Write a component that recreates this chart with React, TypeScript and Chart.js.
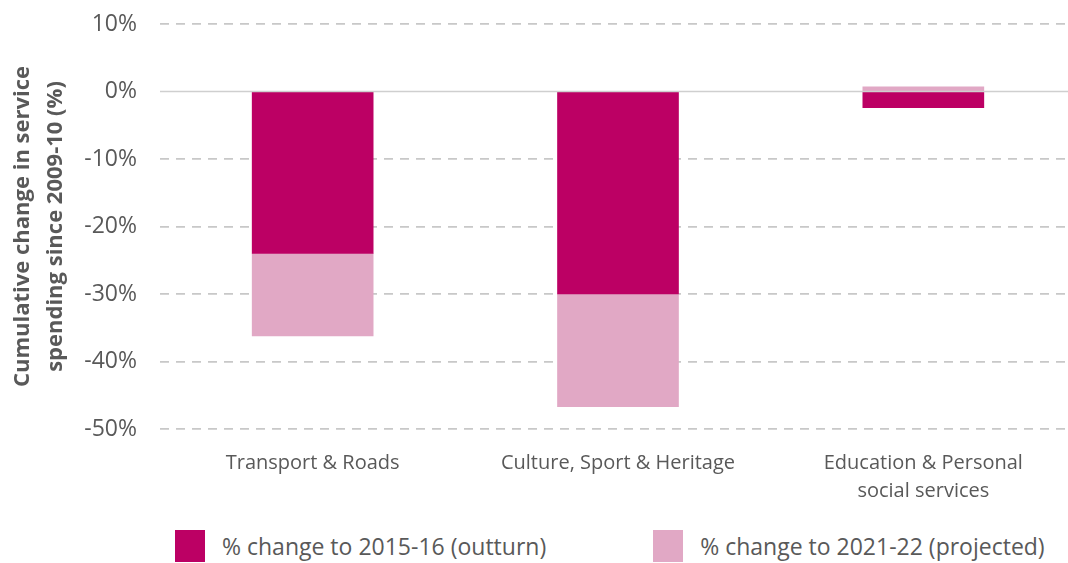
import React, { useEffect, useRef } from "react";
import { Chart, registerables } from "chart.js";

Chart.register(...registerables);

const categories: (string | string[])[] = [
  "Transport & Roads",
  "Culture, Sport & Heritage",
  ["Education & Personal", "social services"],
];
const outturn = [-24.0, -30.0, -2.4];
const projectedExtra = [-12.2, -16.7, 0.7];
const yTicks = [10, 0, -10, -20, -30, -40, -50];
const seriesNames = ["% change to 2015-16 (outturn)", "% change to 2021-22 (projected)"];
const seriesColors = ["#BC0064", "#E1A8C5"];
const yTitle = ["Cumulative change in service", "spending since 2009-10 (%)"];

const FONT = "'Open Sans', 'Noto Sans', sans-serif";
const GREY = "#595959";
const CW = 1078;
const CH = 525;

export default function App() {
  const ref = useRef<HTMLCanvasElement>(null);
  useEffect(() => {
    const zeroLine = {
      id: "zeroLine",
      afterDatasetsDraw(chart: any) {
        const y = chart.scales.y.getPixelForValue(0);
        const { left, right } = chart.chartArea;
        const ctx = chart.ctx;
        ctx.save();
        ctx.strokeStyle = "#cfcfcf";
        ctx.lineWidth = 1.5;
        ctx.beginPath();
        ctx.moveTo(left, y);
        ctx.lineTo(right, y);
        ctx.stroke();
        ctx.restore();
      },
    };
    const chart = new Chart(ref.current!, {
      type: "bar",
      data: {
        labels: categories,
        datasets: [
          {
            label: seriesNames[0],
            data: outturn,
            backgroundColor: seriesColors[0],
            barThickness: 121,
          },
          {
            label: seriesNames[1],
            data: projectedExtra,
            backgroundColor: seriesColors[1],
            barThickness: 121,
          },
        ],
      },
      options: {
        animation: false,
        responsive: false,
        devicePixelRatio: 1,
        layout: { padding: { left: 6, right: 2, top: 24, bottom: 0 } },
        plugins: {
          tooltip: { enabled: false },
          legend: { display: false },
        },
        scales: {
          x: {
            stacked: true,
            grid: { display: false, drawTicks: false },
            border: { display: false },
            ticks: {
              color: GREY,
              font: { family: FONT, size: 20, lineHeight: 1.4 },
              padding: 20,
              maxRotation: 0,
            },
          },
          y: {
            stacked: true,
            min: -50,
            max: 10,
            afterBuildTicks: (axis: any) => {
              axis.ticks = yTicks.map((v) => ({ value: v }));
            },
            afterFit: (axis: any) => {
              axis.width = 154;
              axis.paddingTop = 0;
              axis.paddingBottom = 0;
            },
            grid: {
              color: (c: any) => (c.tick && c.tick.value === 0 ? "rgba(0,0,0,0)" : "#c8c8c8"),
              lineWidth: 1.7,
              drawTicks: false,
            },
            border: { display: false, dash: [9, 7] },
            ticks: {
              color: GREY,
              font: { family: FONT, size: 23 },
              padding: 23,
              callback: (v: any) => `${v}%`,
            },
            title: {
              display: true,
              text: yTitle,
              color: GREY,
              font: { family: FONT, size: 22, weight: "bold", lineHeight: 1.5 },
              padding: { top: 0, bottom: 0 },
            },
          },
        },
      },
      plugins: [zeroLine],
    });
    return () => chart.destroy();
  }, []);

  const legendItem = (i: number) => (
    <div key={i} style={{ display: "flex", alignItems: "center" }}>
      <div style={{ width: 30, height: 32, background: seriesColors[i], marginRight: 17 }} />
      <span style={{ fontFamily: FONT, fontSize: 23, color: GREY, whiteSpace: "nowrap" }}>
        {seriesNames[i]}
      </span>
    </div>
  );

  return (
    <div style={{ position: "fixed", left: 0, top: 0, width: 1068, height: 563, background: "#fff", overflow: "hidden" }}>
      <canvas
        ref={ref}
        width={CW}
        height={CH}
        style={{ position: "absolute", left: 0, top: 0, width: CW, height: CH, display: "block" }}
      />
      <div style={{ position: "absolute", left: 175, top: 530, display: "flex", gap: 107 }}>
        {legendItem(0)}
        {legendItem(1)}
      </div>
    </div>
  );
}
